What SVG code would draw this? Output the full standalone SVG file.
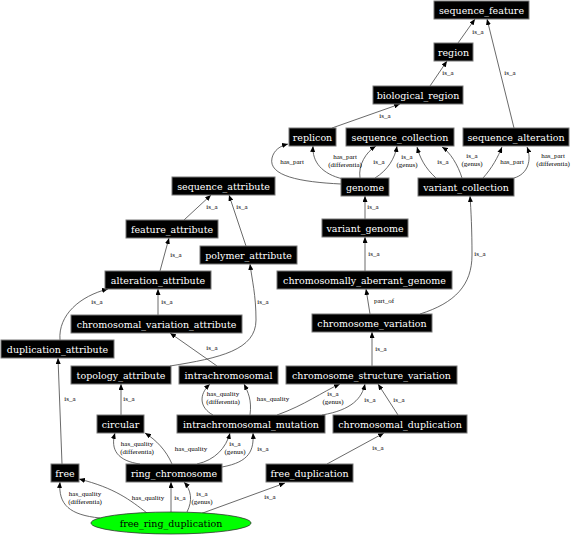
<svg xmlns="http://www.w3.org/2000/svg" width="576" height="537" viewBox="0 0 576 537">
<defs>
<marker id="ah" markerUnits="userSpaceOnUse" markerWidth="6" markerHeight="5" refX="6" refY="2.5" orient="auto"><path d="M0,0 L6,2.5 L0,5 z" fill="#000"/></marker>
<style>
.n rect{fill:#000;stroke:#777;stroke-width:1}
.n text{fill:#fff;font-family:"DejaVu Serif",serif;font-size:9.5px;text-anchor:middle}
.e path{fill:none;stroke:#444;stroke-width:0.8;marker-end:url(#ah)}
.l text{font-family:"Liberation Serif",serif;font-size:7px;text-anchor:middle;fill:#000}
</style>
</defs>
<rect width="576" height="537" fill="#fff"/>
<g id="edges" class="e">
<path d="M458,43 L475,19"/>
<path d="M430,86 L447,61"/>
<path d="M514,128 L487,19"/>
<path d="M332,128 L400,104"/>
<path d="M341,184 C300,182 268,176 272,158 C274,150 280,146 288,144"/>
<path d="M343,179 C322,174 312,162 313,146"/>
<path d="M360,178 C358,165 366,152 376,146"/>
<path d="M375,178 C388,170 395,158 397,146"/>
<path d="M436,178 C425,168 420,158 417,147"/>
<path d="M462,178 C458,165 450,152 442,147"/>
<path d="M483,178 C492,168 498,157 502,147"/>
<path d="M514,178 C528,174 532,160 527,147"/>
<path d="M184,220 L211,195"/>
<path d="M246,246 L229,195"/>
<path d="M365,219 L365,196"/>
<path d="M160,271 L169,238"/>
<path d="M365,271 L365,237"/>
<path d="M370,314 L366,289"/>
<path d="M420,314 C455,303 472,285 472,255 C472,230 471,210 470,196"/>
<path d="M158,315 L158,289"/>
<path d="M60,340 C58,315 80,296 108,289"/>
<path d="M170,366 C220,358 256,350 256,320 C256,295 252,280 250,264"/>
<path d="M217,366 L170,333"/>
<path d="M372,366 L372,332"/>
<path d="M121,415 L121,384"/>
<path d="M62,464 L58,358"/>
<path d="M213,415 C200,408 198,395 210,384"/>
<path d="M250,415 C252,400 248,392 244,384"/>
<path d="M277,415 C305,405 322,392 340,384"/>
<path d="M322,415 C352,410 362,398 365,384"/>
<path d="M398,415 L378,384"/>
<path d="M140,464 C118,461 110,450 115,433"/>
<path d="M172,464 C166,450 156,440 145,433"/>
<path d="M197,464 C215,460 226,448 230,433"/>
<path d="M222,467 C250,462 254,450 253,433"/>
<path d="M327,464 L384,433"/>
<path d="M100,518 C70,515 58,505 60,482"/>
<path d="M147,513 C130,500 115,488 79,479"/>
<path d="M171,512 L171,482"/>
<path d="M187,512 C193,500 191,490 184,482"/>
<path d="M200,514 L285,483"/>
</g>
<g id="edge-labels" class="l">
<text x="478" y="34">is_a</text>
<text x="448" y="75">is_a</text>
<text x="510" y="75">is_a</text>
<text x="385" y="118">is_a</text>
<text x="292" y="164">has_part</text>
<text x="345" y="159">has_part</text><text x="345" y="167">(differentia)</text>
<text x="379" y="164">is_a</text>
<text x="407" y="159">is_a</text><text x="407" y="167">(genus)</text>
<text x="443" y="164">is_a</text>
<text x="472" y="158">is_a</text><text x="472" y="166">(genus)</text>
<text x="512" y="164">has_part</text>
<text x="553" y="158">has_part</text><text x="553" y="166">(differentia)</text>
<text x="212" y="209">is_a</text>
<text x="242" y="209">is_a</text>
<text x="373" y="209">is_a</text>
<text x="176" y="257">is_a</text>
<text x="374" y="256">is_a</text>
<text x="384" y="303">part_of</text>
<text x="480" y="256">is_a</text>
<text x="97" y="304">is_a</text>
<text x="167" y="304">is_a</text>
<text x="263" y="304">is_a</text>
<text x="212" y="350">is_a</text>
<text x="381" y="351">is_a</text>
<text x="70" y="401">is_a</text>
<text x="129" y="401">is_a</text>
<text x="223" y="396">has_quality</text><text x="223" y="404">(differentia)</text>
<text x="273" y="401">has_quality</text>
<text x="333" y="396">is_a</text><text x="333" y="404">(genus)</text>
<text x="370" y="402">is_a</text>
<text x="399" y="402">is_a</text>
<text x="137" y="446">has_quality</text><text x="137" y="454">(differentia)</text>
<text x="191" y="451">has_quality</text>
<text x="235" y="446">is_a</text><text x="235" y="454">(genus)</text>
<text x="263" y="451">is_a</text>
<text x="378" y="450">is_a</text>
<text x="85" y="496">has_quality</text><text x="85" y="504">(differentia)</text>
<text x="148" y="500">has_quality</text>
<text x="180" y="500">is_a</text>
<text x="202" y="496">is_a</text><text x="202" y="504">(genus)</text>
<text x="270" y="499">is_a</text>
</g>
<g id="sequence_feature" class="n"><rect x="434" y="1" width="95" height="18"/><text x="481.5" y="13.5">sequence_feature</text></g>
<g id="region" class="n"><rect x="434" y="43" width="39" height="18"/><text x="453.5" y="55.5">region</text></g>
<g id="biological_region" class="n"><rect x="373" y="86" width="90" height="18"/><text x="418" y="98.5">biological_region</text></g>
<g id="replicon" class="n"><rect x="289" y="128" width="47" height="18"/><text x="312.5" y="140.5">replicon</text></g>
<g id="sequence_collection" class="n"><rect x="346" y="128" width="108" height="18"/><text x="400" y="140.5">sequence_collection</text></g>
<g id="sequence_alteration" class="n"><rect x="463" y="128" width="106" height="18"/><text x="516" y="140.5">sequence_alteration</text></g>
<g id="sequence_attribute" class="n"><rect x="172" y="177" width="103" height="18"/><text x="223.5" y="189.5">sequence_attribute</text></g>
<g id="genome" class="n"><rect x="341" y="178" width="48" height="18"/><text x="365" y="190.5">genome</text></g>
<g id="variant_collection" class="n"><rect x="418" y="178" width="96" height="18"/><text x="466" y="190.5">variant_collection</text></g>
<g id="feature_attribute" class="n"><rect x="126" y="220" width="92" height="18"/><text x="172" y="232.5">feature_attribute</text></g>
<g id="variant_genome" class="n"><rect x="322" y="219" width="86" height="18"/><text x="365" y="231.5">variant_genome</text></g>
<g id="polymer_attribute" class="n"><rect x="200" y="246" width="97" height="18"/><text x="248.5" y="258.5">polymer_attribute</text></g>
<g id="alteration_attribute" class="n"><rect x="105" y="271" width="106" height="18"/><text x="158" y="283.5">alteration_attribute</text></g>
<g id="chromosomally_aberrant_genome" class="n"><rect x="277" y="271" width="175" height="18"/><text x="364.5" y="283.5">chromosomally_aberrant_genome</text></g>
<g id="chromosomal_variation_attribute" class="n"><rect x="71" y="315" width="171" height="18"/><text x="156.5" y="327.5">chromosomal_variation_attribute</text></g>
<g id="chromosome_variation" class="n"><rect x="312" y="314" width="120" height="18"/><text x="372" y="326.5">chromosome_variation</text></g>
<g id="duplication_attribute" class="n"><rect x="1" y="340" width="113" height="18"/><text x="57.5" y="352.5">duplication_attribute</text></g>
<g id="topology_attribute" class="n"><rect x="71" y="366" width="100" height="18"/><text x="121" y="378.5">topology_attribute</text></g>
<g id="intrachromosomal" class="n"><rect x="179" y="366" width="99" height="18"/><text x="228.5" y="378.5">intrachromosomal</text></g>
<g id="chromosome_structure_variation" class="n"><rect x="286" y="366" width="171" height="18"/><text x="371.5" y="378.5">chromosome_structure_variation</text></g>
<g id="circular" class="n"><rect x="97" y="415" width="47" height="18"/><text x="120.5" y="427.5">circular</text></g>
<g id="intrachromosomal_mutation" class="n"><rect x="177" y="415" width="148" height="18"/><text x="251" y="427.5">intrachromosomal_mutation</text></g>
<g id="chromosomal_duplication" class="n"><rect x="333" y="415" width="134" height="18"/><text x="400" y="427.5">chromosomal_duplication</text></g>
<g id="free" class="n"><rect x="51" y="464" width="28" height="18"/><text x="65" y="476.5">free</text></g>
<g id="ring_chromosome" class="n"><rect x="126" y="464" width="96" height="18"/><text x="174" y="476.5">ring_chromosome</text></g>
<g id="free_duplication" class="n"><rect x="266" y="464" width="87" height="18"/><text x="309.5" y="476.5">free_duplication</text></g>
<g id="free_ring_duplication"><ellipse cx="171" cy="523" rx="80" ry="11" fill="#00ff00" stroke="#333" stroke-width="0.8"/><text x="171" y="526.5" font-family="DejaVu Serif, serif" font-size="9.5" text-anchor="middle" fill="#000">free_ring_duplication</text></g>
</svg>
